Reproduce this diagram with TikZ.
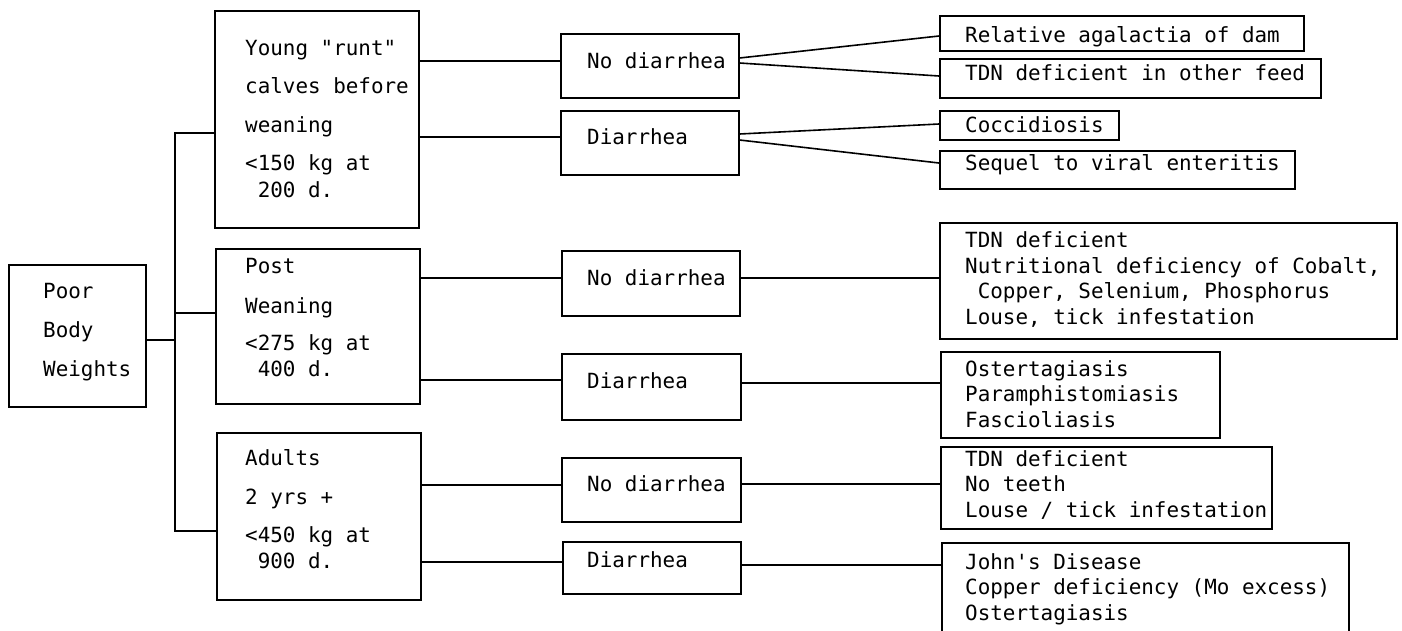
\documentclass[tikz,border=0pt]{standalone}
\usepackage{fontspec}
\setmonofont{DejaVu Sans Mono}
\begin{document}
\begin{tikzpicture}[x=1pt,y=-1pt,
  box/.style={draw, line width=1.6pt, inner sep=0pt, anchor=north west},
  txt/.style={anchor=base west, inner sep=0pt, align=left, font=\ttfamily\fontsize{20.9pt}{25.5pt}\selectfont},
  link/.style={line width=1.6pt}]
\useasboundingbox (0,0) rectangle (1402,630);
\fill[white] (0,0) rectangle (1402,630);
\clip (0,0) rectangle (1402,630);
% boxes
\node[box, minimum width=137pt, minimum height=142pt] (p) at (8,264) {};
\node[box, minimum width=204pt, minimum height=217pt] (b1) at (214,10) {};
\node[box, minimum width=204pt, minimum height=155pt] (b2) at (215,248) {};
\node[box, minimum width=204pt, minimum height=167pt] (b3) at (216,432) {};
\node[box, minimum width=178pt, minimum height=64pt] (nd1) at (560,33) {};
\node[box, minimum width=178pt, minimum height=64pt] (d1) at (560,110) {};
\node[box, minimum width=178pt, minimum height=65pt] (nd2) at (561,250) {};
\node[box, minimum width=179pt, minimum height=66pt] (d2) at (561,353) {};
\node[box, minimum width=179pt, minimum height=64pt] (nd3) at (561,457) {};
\node[box, minimum width=178pt, minimum height=52pt] (d3) at (562,541) {};
\node[box, minimum width=364pt, minimum height=35pt] (r1) at (939,15) {};
\node[box, minimum width=381pt, minimum height=39pt] (r2) at (939,58) {};
\node[box, minimum width=179pt, minimum height=29pt] (r3) at (939,110) {};
\node[box, minimum width=355pt, minimum height=38pt] (r4) at (939,150) {};
\node[box, minimum width=457pt, minimum height=116pt] (r5) at (939,222) {};
\node[box, minimum width=279pt, minimum height=86pt] (r6) at (940,351) {};
\node[box, minimum width=331pt, minimum height=82pt] (r7) at (940,446) {};
\node[box, minimum width=407pt, minimum height=100pt] (r8) at (941,542) {};
% texts (base anchor = baseline of the last line)
\node[txt] (pt) at (43,376) {Poor\\[13.5pt]Body\\[13.5pt]Weights};
\node[txt] (b1t) at (245,197) {Young "runt"\\[12.5pt]calves before\\[13.5pt]weaning\\[12.5pt]<150 kg at\\[1.5pt]\phantom{<}200 d.};
\node[txt] (b2t) at (245,376) {Post\\[14.5pt]Weaning\\[11.5pt]<275 kg at\\[0.5pt]\phantom{<}400 d.};
\node[txt] (b3t) at (245,568) {Adults\\[13.5pt]2 yrs +\\[12.5pt]<450 kg at\\[0.5pt]\phantom{<}900 d.};
\node[txt] (nd1t) at (587,68) {No diarrhea};
\node[txt] (d1t) at (587,144) {Diarrhea};
\node[txt] (nd2t) at (587,285) {No diarrhea};
\node[txt] (d2t) at (587,388) {Diarrhea};
\node[txt] (nd3t) at (587,491) {No diarrhea};
\node[txt] (d3t) at (587,567) {Diarrhea};
\node[txt] (r1t) at (965,42) {Relative agalactia of dam};
\node[txt] (r2t) at (965,80) {TDN deficient in other feed};
\node[txt] (r3t) at (965,132) {Coccidiosis};
\node[txt] (r4t) at (965,170) {Sequel to viral enteritis};
\node[txt] (r5t) at (965,324) {TDN deficient\\Nutritional deficiency of Cobalt,\\\phantom{N}Copper, Selenium, Phosphorus\\Louse, tick infestation};
\node[txt] (r6t) at (965,427) {Ostertagiasis\\Paramphistomiasis\\Fascioliasis};
\node[txt] (r7t) at (965,517) {TDN deficient\\No teeth\\Louse / tick infestation};
\node[txt] (r8t) at (965,620) {John's Disease\\Copper deficiency (Mo excess)\\Ostertagiasis};
% trunk
\coordinate (tt) at (175,133);
\coordinate (tb) at (175,531);
\coordinate (pj) at (175,340);
\draw[link] (p.east |- pj) -- (pj);
\draw[link] (b1.west |- tt) -- (tt) -- (tb) -- (b3.west |- tb);
\draw[link] (pj |- 0,313) -- (b2.west |- 0,313);
% age -> symptom
\draw[link] (b1.east |- 0,61) -- (nd1.west |- 0,61);
\draw[link] (b1.east |- 0,137) -- (d1.west |- 0,137);
\draw[link] (b2.east |- 0,278) -- (nd2.west |- 0,278);
\draw[link] (b2.east |- 0,380) -- (d2.west |- 0,380);
\draw[link] (b3.east |- 0,485) -- (nd3.west |- 0,485);
\draw[link] (b3.east |- 0,562) -- (d3.west |- 0,562);
% symptom -> causes
\draw[link] (nd1.east |- 0,58) -- (r1.west |- 0,36);
\draw[link] (nd1.east |- 0,63) -- (r2.west |- 0,76);
\draw[link] (d1.east |- 0,134) -- (r3.west |- 0,124);
\draw[link] (d1.east |- 0,140) -- (r4.west |- 0,163);
\draw[link] (nd2.east |- 0,278) -- (r5.west |- 0,278);
\draw[link] (d2.east |- 0,383) -- (r6.west |- 0,383);
\draw[link] (nd3.east |- 0,484) -- (r7.west |- 0,484);
\draw[link] (d3.east |- 0,565) -- (r8.west |- 0,565);
\end{tikzpicture}
\end{document}
